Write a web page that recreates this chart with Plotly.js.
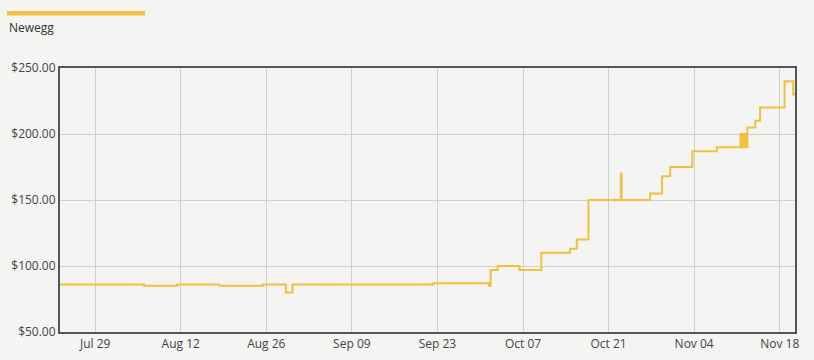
<!DOCTYPE html>
<html>
<head>
<meta charset="utf-8">
<script src="https://cdn.plot.ly/plotly-3.0.1.min.js"></script>
<style>
  html, body { margin: 0; padding: 0; background: #f4f4f2; }
  #chart { width: 814px; height: 360px; }
</style>
</head>
<body>
<div id="chart"></div>
<script>
// Series: Newegg price history (step line)
const seriesName = "Newegg";
const dates = [
  "2020-07-23 06:00", "2020-08-06 00:00", "2020-08-11 10:00", "2020-08-18 08:00",
  "2020-08-25 10:00", "2020-08-29 05:00", "2020-08-30 07:00", "2020-09-22 08:00",
  "2020-10-01 10:00", "2020-10-01 17:00", "2020-10-02 20:00", "2020-10-06 10:00",
  "2020-10-10 00:00", "2020-10-14 17:00", "2020-10-15 19:00", "2020-10-17 17:00",
  "2020-10-23 00:00", "2020-10-23 03:00", "2020-10-27 19:00", "2020-10-29 18:00",
  "2020-10-31 02:00", "2020-11-03 17:00", "2020-11-07 17:00", "2020-11-11 14:00",
  "2020-11-11 18:00", "2020-11-11 22:00", "2020-11-12 02:00", "2020-11-12 06:00",
  "2020-11-12 10:00", "2020-11-12 17:00", "2020-11-14 00:00", "2020-11-14 19:00",
  "2020-11-18 19:00", "2020-11-20 05:00", "2020-11-20 12:00"
];
const prices = [
  86, 85, 86, 85,
  86, 80, 86, 87,
  85, 97, 100, 97,
  110, 113, 120, 150,
  170, 150, 155, 168,
  175, 187, 190, 200,
  190, 200, 190, 200,
  190, 205, 210, 220,
  240, 230, 230
];
const tickDates = ["2020-07-29", "2020-08-12", "2020-08-26", "2020-09-09", "2020-09-23",
                   "2020-10-07", "2020-10-21", "2020-11-04", "2020-11-18"];
const tickLabels = ["Jul 29", "Aug 12", "Aug 26", "Sep 09", "Sep 23",
                    "Oct 07", "Oct 21", "Nov 04", "Nov 18"];
const yTicks = [50, 100, 150, 200, 250];
const yTickLabels = ["$50.00", "$100.00", "$150.00", "$200.00", "$250.00"];

const lineColor = "#f0c040";
const fontFam = "'Segoe UI', 'Open Sans', 'Noto Sans', sans-serif";

const trace = {
  type: "scatter",
  mode: "lines",
  name: seriesName,
  x: dates,
  y: prices,
  line: { shape: "hv", color: lineColor, width: 2 },
  hoverinfo: "skip"
};

// plot area in px: left 60, right 795, top 68, bottom 332
const W = 735, H = 264;
const px = v => (v - 60) / W;
const py = v => (332 - v) / H;

const layout = {
  width: 814,
  height: 360,
  margin: { l: 60, r: 19, t: 68, b: 28, pad: 0 },
  paper_bgcolor: "#f4f4f2",
  plot_bgcolor: "#f4f4f2",
  showlegend: false,
  font: { family: fontFam, size: 12, color: "#444" },
  xaxis: {
    type: "date",
    range: [dates[0], dates[dates.length - 1]],
    tickmode: "array",
    tickvals: tickDates,
    ticktext: tickLabels,
    showgrid: true,
    gridcolor: "#cfcfcd",
    gridwidth: 1,
    showline: true,
    linecolor: "#555",
    linewidth: 2,
    mirror: true,
    ticks: "",
    zeroline: false,
    tickfont: { family: fontFam, size: 12, color: "#444" }
  },
  yaxis: {
    range: [50, 250],
    tickmode: "array",
    tickvals: yTicks,
    ticktext: yTickLabels,
    showgrid: true,
    gridcolor: "#cfcfcd",
    gridwidth: 1,
    showline: true,
    linecolor: "#555",
    linewidth: 2,
    mirror: true,
    ticks: "",
    zeroline: false,
    tickfont: { family: fontFam, size: 12, color: "#444" }
  },
  shapes: [
    {
      type: "rect", xref: "paper", yref: "paper",
      x0: px(7), x1: px(145), y0: py(15.5), y1: py(11),
      fillcolor: lineColor, line: { width: 0 }
    }
  ],
  annotations: [
    {
      text: seriesName, xref: "paper", yref: "paper",
      x: px(7), y: py(28), xanchor: "left", yanchor: "middle",
      showarrow: false,
      font: { family: fontFam, size: 12, color: "#333" }
    }
  ]
};

Plotly.newPlot("chart", [trace], layout, { displayModeBar: false, staticPlot: true });
</script>
</body>
</html>
